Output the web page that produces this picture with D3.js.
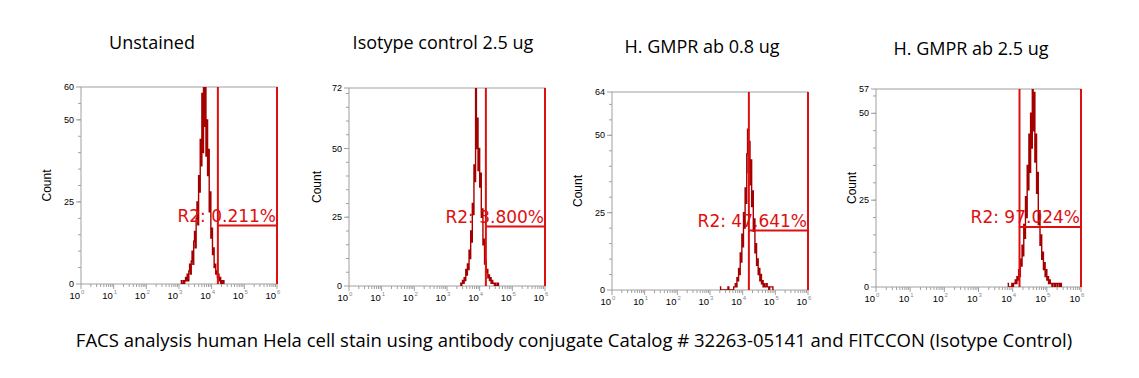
<!DOCTYPE html>
<html>
<head>
<meta charset="utf-8">
<script src="https://cdn.jsdelivr.net/npm/d3@7"></script>
<style>
  body { margin: 0; background: #fff; }
</style>
</head>
<body>
<div class="canvas"></div>
<script>
// panel titles and gate labels
var titles = ["Unstained", "Isotype control 2.5 ug", "H. GMPR ab 0.8 ug", "H. GMPR ab 2.5 ug"];
var gateLabels = ["R2: 0.211%", "R2: 3.800%", "R2: 47.641%", "R2: 97.024%"];
var yMax = [60, 72, 64, 57];
var yTickValues = [[0, 25, 50, 60], [0, 25, 50, 72], [0, 25, 50, 64], [0, 25, 50, 57]];
// gate: log10 left edge, log10 right edge, count level of marker bar
var gateLo = [4.19, 4.19, 4.19, 4.2];
var gateHi = [6, 6, 6, 6];
var gateLevel = [17.8, 21.6, 19.2, 17.3];
var xDecades = [0, 1, 2, 3, 4, 5, 6];

// histogram channels: first channel (log10), channel width (log10), counts
var histStart = [3.05, 3.4, 3.3, 3.85];
var histStep = 0.025;
var counts1 = [1,0,0,1,0,1,2,1,3,1,4,6,3,7,10,6,13,16,11,20,25,18,33,28,44,36,58,40,66,48,62,39,50,33,41,22,28,14,17,9,11,5,6,3,4,2,3,1,2,0,1,0,1];
var counts2 = [1,0,1,2,1,3,2,6,4,8,6,13,10,20,16,30,26,44,38,78,50,61,42,50,36,41,25,28,15,17,8,9,5,6,3,4,2,3,1,2,1,1,0,1,0,0,1];
var counts3 = [1,0,0,0,0,0,0,0,0,0,1,0,0,0,0,0,0,1,1,2,1,4,3,7,5,12,9,18,14,25,20,33,28,44,52,38,48,34,42,27,32,19,23,12,15,8,10,5,7,3,5,2,3,1,2,1,1,2,1,1,0,1,1,1,1,0];
var counts4 = [1,0,0,0,0,1,0,1,1,2,1,3,2,5,3,8,6,12,9,18,14,26,20,35,28,44,33,50,40,62,45,56,36,44,27,33,18,22,12,15,8,10,5,7,3,5,2,3,1,2,1,1,0,1,1,0,1,1,0,1,1,0,1];
var counts = [counts1, counts2, counts3, counts4];

// plot frames
var frames = [
  {left: 81, right: 277, top: 87, bottom: 284, countX: 47},
  {left: 349, right: 545, top: 88, bottom: 286, countX: 317},
  {left: 612, right: 808, top: 92, bottom: 290, countX: 578},
  {left: 876, right: 1081, top: 89, bottom: 287, countX: 852}
];
var titlePos = [{x: 152, y: 49}, {x: 443, y: 49}, {x: 702, y: 53}, {x: 971, y: 55}];

var svg = d3.select(".canvas")
  .append("svg")
  .attr("width", 1139)
  .attr("height", 378)
  .style("display", "block");

frames.forEach(function(f, k) {
  var x = d3.scaleLinear().domain([0, 6]).range([f.left, f.right]);
  var y = d3.scaleLinear().domain([0, yMax[k]]).range([f.bottom, f.top]);
  var g = svg.append("g");

  // title
  svg.append("text")
    .attr("x", titlePos[k].x)
    .attr("y", titlePos[k].y)
    .attr("text-anchor", "middle")
    .style("font-family", "'Open Sans', sans-serif")
    .style("font-size", "18px")
    .text(titles[k]);

  // frame
  g.append("rect")
    .attr("x", f.left).attr("y", f.top)
    .attr("width", f.right - f.left).attr("height", f.bottom - f.top)
    .attr("fill", "none").attr("stroke", "#a0a0a0").attr("stroke-width", 1);

  // y ticks
  var minor = d3.range(5, yMax[k], 5);
  g.selectAll(".ymin").data(minor).enter().append("line")
    .attr("x1", f.left - 3).attr("x2", f.left)
    .attr("y1", function(d) { return y(d); }).attr("y2", function(d) { return y(d); })
    .attr("stroke", "#a0a0a0");
  g.selectAll(".ymaj").data(yTickValues[k]).enter().append("line")
    .attr("x1", f.left - 5).attr("x2", f.left)
    .attr("y1", function(d) { return y(d); }).attr("y2", function(d) { return y(d); })
    .attr("stroke", "#a0a0a0");
  g.selectAll(".ylab").data(yTickValues[k]).enter().append("text")
    .attr("x", f.left - 7)
    .attr("y", function(d) { return y(d) + 3; })
    .attr("text-anchor", "end")
    .style("font-family", "'Liberation Sans', Arial, sans-serif")
    .style("font-size", "9px")
    .text(function(d) { return d; });

  // x ticks: log decades with minor ticks
  var xMinor = [];
  xDecades.slice(0, 6).forEach(function(dec) {
    for (var m = 2; m < 10; m++) xMinor.push(dec + Math.log10(m));
  });
  g.selectAll(".xmin").data(xMinor).enter().append("line")
    .attr("x1", function(d) { return x(d); }).attr("x2", function(d) { return x(d); })
    .attr("y1", f.bottom).attr("y2", f.bottom + 3)
    .attr("stroke", "#a0a0a0");
  g.selectAll(".xmaj").data(xDecades).enter().append("line")
    .attr("x1", function(d) { return x(d); }).attr("x2", function(d) { return x(d); })
    .attr("y1", f.bottom).attr("y2", f.bottom + 5)
    .attr("stroke", "#a0a0a0");
  var xl = g.selectAll(".xlab").data(xDecades).enter().append("text")
    .attr("x", function(d) { return x(d) - 4; })
    .attr("y", f.bottom + 15)
    .attr("text-anchor", "middle")
    .style("font-family", "'Liberation Sans', Arial, sans-serif")
    .style("font-size", "9.5px");
  xl.append("tspan").text("10");
  xl.append("tspan")
    .attr("dx", 1).attr("dy", -5)
    .style("font-size", "6px").attr("fill", "#888")
    .text(function(d) { return d; });

  // Count label
  svg.append("text")
    .attr("transform", "translate(" + (f.countX + 4) + "," + ((f.top + f.bottom) / 2) + ") rotate(-90)")
    .attr("text-anchor", "middle")
    .style("font-family", "'Liberation Sans', Arial, sans-serif")
    .style("font-size", "12px")
    .text("Count");

  // histogram
  var clipId = "clip" + k;
  svg.append("clipPath").attr("id", clipId).append("rect")
    .attr("x", f.left).attr("y", f.top)
    .attr("width", f.right - f.left).attr("height", f.bottom - f.top);
  var pts = counts[k].map(function(c, i) { return [histStart[k] + i * histStep, c]; });
  pts.push([histStart[k] + counts[k].length * histStep, 0]);
  var line = d3.line()
    .x(function(d) { return x(d[0]); })
    .y(function(d) { return y(d[1]); })
    .curve(d3.curveStepAfter);
  g.append("path")
    .datum(pts)
    .attr("clip-path", "url(#" + clipId + ")")
    .attr("d", line)
    .attr("fill", "none")
    .attr("stroke", "#a40000")
    .attr("stroke-width", 1.4);

  // gate marker
  var gc = "#dd1010";
  g.append("line")
    .attr("x1", x(gateLo[k])).attr("x2", x(gateLo[k]))
    .attr("y1", f.top).attr("y2", f.bottom)
    .attr("stroke", gc).attr("stroke-width", 2);
  g.append("line")
    .attr("x1", x(gateHi[k])).attr("x2", x(gateHi[k]))
    .attr("y1", f.top).attr("y2", f.bottom)
    .attr("stroke", gc).attr("stroke-width", 2);
  g.append("line")
    .attr("x1", x(gateLo[k])).attr("x2", x(gateHi[k]))
    .attr("y1", y(gateLevel[k])).attr("y2", y(gateLevel[k]))
    .attr("stroke", gc).attr("stroke-width", 2);
  g.append("text")
    .attr("x", x(gateHi[k]) - 1)
    .attr("y", y(gateLevel[k]) - 4)
    .attr("text-anchor", "end")
    .attr("fill", gc)
    .style("font-family", "'DejaVu Sans', sans-serif")
    .style("font-size", "17px")
    .text(gateLabels[k]);
});

// caption
svg.append("text")
  .attr("x", 574)
  .attr("y", 347)
  .attr("text-anchor", "middle")
  .style("font-family", "'Open Sans', sans-serif")
  .style("font-size", "18.5px")
  .text("FACS analysis human Hela cell stain using antibody conjugate Catalog # 32263-05141 and FITCCON (Isotype Control)");
</script>
</body>
</html>
